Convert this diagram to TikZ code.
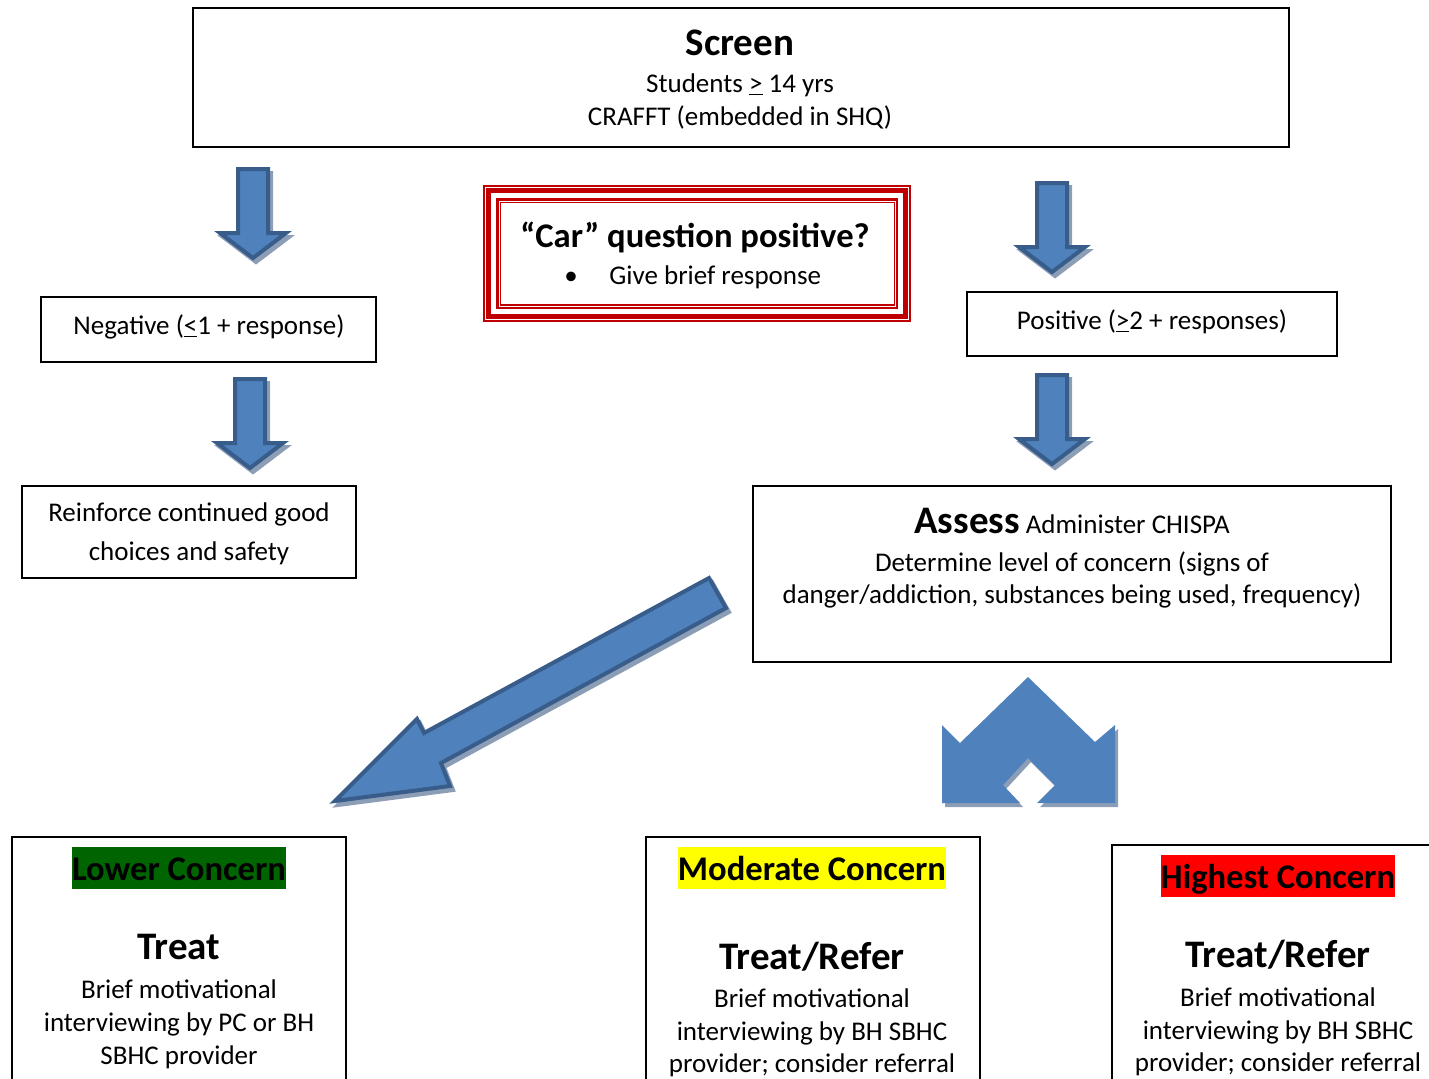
\documentclass[tikz,border=0pt]{standalone}
\usepackage{fontspec}
\setmainfont{Carlito}
\definecolor{blueF}{HTML}{4F81BD}
\definecolor{blueD}{HTML}{385D8A}
\definecolor{shadowC}{HTML}{8C9DB6}
\definecolor{redB}{HTML}{C00000}
\definecolor{greenH}{HTML}{006400}
\definecolor{yellowH}{HTML}{FFFF00}
\definecolor{redH}{HTML}{FF0000}
\tikzset{
  box/.style={draw=black, line width=0.8pt, anchor=north west, inner sep=0pt, outer sep=0pt},
  body/.style={font=\fontsize{13.5}{16.5}\selectfont, anchor=base, inner sep=0pt},
  title/.style={font=\fontsize{19.5}{23}\selectfont\bfseries, anchor=base, inner sep=0pt},
  hl/.style={font=\fontsize{17.3}{21}\selectfont\bfseries, anchor=base, inner xsep=0pt, inner ysep=0pt, text height=16.5pt, text depth=4.5pt},
  blockarrow/.style={fill=blueF, draw=blueD, line width=2pt, line join=miter},
  blockshadow/.style={fill=shadowC, draw=shadowC, line width=2pt, line join=miter}
}
\newcommand\dnarrowshape{(-15,0) -- (15,0) -- (15,64) -- (33,64) -- (0,89) -- (-33,64) -- (-15,64) -- cycle}
\newcommand\mydnarrow[2]{%
  \path[blockshadow, shift={(#1+3,#2+4)}] \dnarrowshape;
  \path[blockarrow, shift={(#1,#2)}] \dnarrowshape;}
\begin{document}
\begin{tikzpicture}[x=0.5pt,y=-0.5pt]
\useasboundingbox (0,0) rectangle (1429,1078);
\clip (0,0) rectangle (1429,1078);

% ---- Screen
\node[box, minimum width=548pt, minimum height=69.5pt] (screen) at (193,8) {};
\node[title] (screenT) at (740,55) {Screen};
\node[body] (screenL1) at (740,92) {Students \underline{>} 14 yrs};
\node[body] (screenL2) at (740,125) {CRAFFT (embedded in SHQ)};

% ---- down arrows
\mydnarrow{253}{169}
\mydnarrow{250}{379}
\mydnarrow{1052}{183}
\mydnarrow{1052}{375}

% ---- Car box (triple red border)
\fill[redB] (483,185) rectangle (911,322);
\fill[white] (485,187) rectangle (909,320);
\fill[redB] (486,188) rectangle (908,319);
\fill[white] (491,193) rectangle (903,314);
\fill[redB] (496,198) rectangle (898,309);
\fill[white] (498.5,200.5) rectangle (895.5,306.5);
\fill[redB] (499.5,201.5) rectangle (894.5,305.5);
\node[fill=white, anchor=north west, inner sep=0pt, minimum width=196.5pt, minimum height=50.5pt] (car) at (501,203) {};
\node[font=\fontsize{17.3}{21}\selectfont\bfseries, anchor=base, inner sep=0pt] (carT) at (695,247) {“Car” question positive?};
\node[body] (carB) at (571,284) {\textbullet};
\node[body, anchor=base west] (carL) at (609,284) {Give brief response};

% ---- Negative
\node[box, minimum width=167.5pt, minimum height=32.5pt] (neg) at (41,297) {};
\node[body] (negT) at (209,334) {Negative (\underline{<}1 + response)};

% ---- Reinforce
\node[box, minimum width=167pt, minimum height=46pt] (reinf) at (22,486) {};
\node[body] (reinfL1) at (189,521) {Reinforce continued good};
\node[body] (reinfL2) at (189,560) {choices and safety};

% ---- Positive
\node[box, minimum width=185pt, minimum height=32pt] (pos) at (967,292) {};
\node[body] (posT) at (1152,329) {Positive (\underline{>}2 + responses)};

% ---- Assess
\node[box, minimum width=319pt, minimum height=88pt] (assess) at (753,486) {};
\node[body] (assessL1) at (1072,533) {{\fontsize{19.5}{23}\selectfont\bfseries Assess} Administer CHISPA};
\node[body] (assessL2) at (1072,571) {Determine level of concern (signs of};
\node[body] (assessL3) at (1072,603) {danger/addiction, substances being used, frequency)};

% ---- diagonal arrow
\path[blockshadow, shift={(3,4)}] (709,578) -- (726,608) -- (441,763) -- (450,786) -- (335,801) -- (417,719) -- (424,733) -- cycle;
\path[blockarrow] (709,578) -- (726,608) -- (441,763) -- (450,786) -- (335,801) -- (417,719) -- (424,733) -- cycle;

% ---- crown double arrow
\fill[shadowC, shift={(3,4)}] (942,725) -- (960,743) -- (1028,677) -- (1095,742) -- (1115,725) -- (1115,803) -- (1037,803) -- (1055,785) -- (1028,758) -- (1003,785) -- (1020,803) -- (942,803) -- cycle;
\fill[blueF] (942,725) -- (960,743) -- (1028,677) -- (1095,742) -- (1115,725) -- (1115,803) -- (1037,803) -- (1055,785) -- (1028,758) -- (1003,785) -- (1020,803) -- (942,803) -- cycle;

% ---- Lower concern
\node[box, minimum width=167pt, minimum height=150pt] (lower) at (12,837) {};
\node[hl, fill=greenH] (lowerH) at (179,880) {Lower Concern};
\node[title] (lowerT) at (179,959) {Treat};
\node[body] (lowerL1) at (179,998) {Brief motivational};
\node[body] (lowerL2) at (179,1031) {interviewing by PC or BH};
\node[body] (lowerL3) at (179,1064) {SBHC provider};

% ---- Moderate concern
\node[box, minimum width=167pt, minimum height=150pt] (mod) at (646,837) {};
\node[hl, fill=yellowH] (modH) at (812,880) {Moderate Concern};
\node[title] (modT) at (812,969) {Treat/Refer};
\node[body] (modL1) at (812,1007) {Brief motivational};
\node[body] (modL2) at (812,1040) {interviewing by BH SBHC};
\node[body] (modL3) at (812,1072) {provider; consider referral};

% ---- Highest concern
\node[box, minimum width=200pt, minimum height=150pt] (high) at (1112,845) {};
\node[hl, fill=redH] (highH) at (1278,888) {Highest Concern};
\node[title] (highT) at (1278,967) {Treat/Refer};
\node[body] (highL1) at (1278,1006) {Brief motivational};
\node[body] (highL2) at (1278,1039) {interviewing by BH SBHC};
\node[body] (highL3) at (1278,1071) {provider; consider referral};
\end{tikzpicture}
\end{document}
